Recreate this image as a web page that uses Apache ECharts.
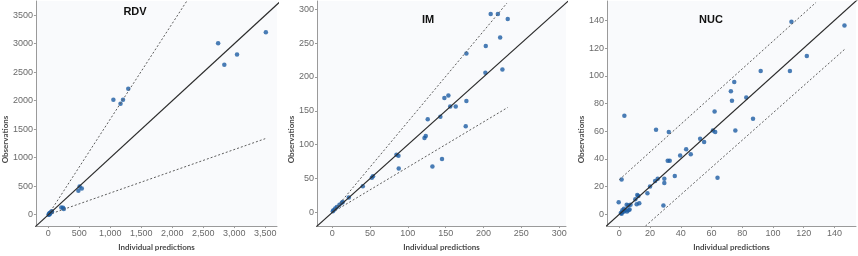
<!DOCTYPE html>
<html>
<head>
<meta charset="utf-8">
<script src="https://cdn.jsdelivr.net/npm/echarts@6/dist/echarts.min.js"></script>
<style>
  html, body { margin: 0; padding: 0; background: #fff; }
  #chart { width: 858px; height: 256px; }
</style>
</head>
<body>
<div id="chart"></div>
<script>
// observed vs individual predicted, [prediction, observation]
const rdvPoints = [
  [3510, 3200], [2740, 3010], [2840, 2630], [3045, 2810],
  [1050, 2015], [1290, 2210], [1205, 2015], [1165, 1945],
  [485, 420], [505, 495], [540, 460],
  [210, 125], [238, 120], [250, 100],
  [5, 5], [15, 20], [25, 30], [40, 45], [55, 60], [60, 50], [30, 15], [10, 0]
];
const imPoints = [
  [209.5, 292.8], [219, 292.8], [232, 285.6], [222, 258], [203, 245.7],
  [202.5, 206.3], [225, 211], [177.4, 234.6], [153.6, 172.6], [148.3, 168.8],
  [156, 156.3], [163.3, 156.3], [177.4, 164.4], [126.3, 137.5], [143, 141.3],
  [123.7, 113], [122, 110], [176.5, 127.4], [145.2, 78.8], [132.5, 67.8],
  [85, 85.1], [87.6, 83.7], [88, 64.9], [54, 53.4], [52.4, 51.4],
  [40.5, 38.9], [22, 22], [14, 15.4], [12.8, 14.4], [9.7, 11.5],
  [6.2, 8.2], [4, 5.8], [1.8, 3.4], [0.9, 1.9]
];
const nucPoints = [
  [112, 139], [146.5, 136.4], [122, 114.3], [111, 103.4], [92, 103.4],
  [74.8, 95.6], [72.6, 88.8], [73.3, 82], [82.6, 84.3], [87, 69],
  [23.9, 61], [32.2, 59.4], [52.6, 54.6], [55.2, 52.3], [60.9, 60.6],
  [62.4, 59.4], [75.5, 60.6], [43.5, 46.9], [39.6, 42.4], [46.5, 43.3],
  [31.5, 38.7], [32.8, 38.7], [36.1, 27.6], [63.9, 26.4], [29.3, 25.7],
  [29.3, 22.6], [25, 25.7], [23.3, 24], [1.5, 25.2], [20, 20],
  [18.3, 15.3], [11.7, 13.9], [12.4, 13.2], [10.4, 10.8], [11.3, 7.3],
  [13, 8], [6.7, 3.5], [4.8, 6.9], [5.9, 6.4], [7.3, 6.9],
  [28.7, 6.4], [-0.4, 8.7], [3.3, 71.2], [62, 74.2],
  [1, 1], [2, 1.5], [3, 2], [4, 3], [3, 4], [5, 2], [2, 3], [1.5, 0.5], [6, 3]
];

// identity and dashed reference lines
const rdvIdentity = [[-300, -300], [4000, 4000]];
const rdvUpper = [[0, 0], [2229, 3740]];
const rdvLower = [[0, 0], [3500, 1334]];
const imIdentity = [[-30, -30], [330, 330]];
const imUpper = [[0, 0], [231, 309]];
const imLower = [[0, 0], [232, 155]];
const nucIdentity = [[-10, -10], [160, 160]];
const nucUpper = [[0, 25], [128, 153]];
const nucLower = [[17, -8.5], [146.5, 119]];

const rdvTicks = [0, 500, 1000, 1500, 2000, 2500, 3000, 3500];
const imTicks = [0, 50, 100, 150, 200, 250, 300];
const nucTicks = [0, 20, 40, 60, 80, 100, 120, 140];

const panelTitles = ['RDV', 'IM', 'NUC'];

const labelStyle = { fontFamily: 'Liberation Sans', fontSize: 9, color: '#6a6a6a' };
const nameStyle = { fontFamily: 'Lato', fontSize: 8, fontWeight: 'bold', color: '#4a4a4a' };

function makeX(idx, min, max, ticks, commas) {
  return {
    type: 'value', gridIndex: idx, min: min, max: max,
    name: 'Individual predictions', nameLocation: 'middle', nameGap: 13,
    nameTextStyle: nameStyle,
    axisLine: { show: true, onZero: false, lineStyle: { color: '#9a9a9a', width: 1 } },
    axisTick: { show: true, length: 2, customValues: ticks, lineStyle: { color: '#9a9a9a' } },
    axisLabel: Object.assign({
      customValues: ticks, margin: 3,
      formatter: v => commas ? v.toLocaleString('en-US') : String(v)
    }, labelStyle),
    splitLine: { show: false }
  };
}
function makeY(idx, min, max, ticks) {
  return {
    type: 'value', gridIndex: idx, min: min, max: max,
    name: 'Observations', nameLocation: 'middle', nameGap: 21, nameRotate: 90,
    nameTextStyle: Object.assign({ padding: [0, 52, 0, 0] }, nameStyle),
    axisLine: { show: true, onZero: false, lineStyle: { color: '#9a9a9a', width: 1 } },
    axisTick: { show: true, length: 2, customValues: ticks, lineStyle: { color: '#9a9a9a' } },
    axisLabel: Object.assign({ customValues: ticks, margin: 3, formatter: v => String(v) }, labelStyle),
    splitLine: { show: false }
  };
}

function panelSeries(idx, points, identity, upper, lower) {
  return [
    { type: 'line', xAxisIndex: idx, yAxisIndex: idx, data: upper, symbol: 'none', silent: true,
      lineStyle: { color: '#5e5e5e', width: 1, type: [2, 2] } },
    { type: 'line', xAxisIndex: idx, yAxisIndex: idx, data: lower, symbol: 'none', silent: true,
      lineStyle: { color: '#5e5e5e', width: 1, type: [2, 2] } },
    { type: 'line', xAxisIndex: idx, yAxisIndex: idx, data: identity, symbol: 'none', silent: true,
      lineStyle: { color: '#2b2b2b', width: 1.2 } },
    { type: 'scatter', xAxisIndex: idx, yAxisIndex: idx, data: points, symbolSize: 4.5,
      itemStyle: { color: '#1d5ca3' } }
  ];
}

const chart = echarts.init(document.getElementById('chart'));
const gridBg = { show: true, backgroundColor: '#f9fafc', borderWidth: 0, top: 1, height: 230 };

chart.setOption({
  animation: false,
  grid: [
    Object.assign({ left: 27, width: 250 }, gridBg),
    Object.assign({ left: 317, width: 249 }, gridBg),
    Object.assign({ left: 607, width: 249 }, gridBg)
  ],
  xAxis: [
    makeX(0, -200, 3690, rdvTicks, true),
    makeX(1, -20, 309, imTicks, false),
    makeX(2, -8, 154, nucTicks, false)
  ],
  yAxis: [
    makeY(0, -200, 3750, rdvTicks),
    makeY(1, -20, 312, imTicks),
    makeY(2, -8.5, 154, nucTicks)
  ],
  graphic: [
    { type: 'text', x: 135, y: 12, style: { text: panelTitles[0], align: 'center', verticalAlign: 'middle',
      font: 'bold 11px "Liberation Sans"', fill: '#111' } },
    { type: 'text', x: 428, y: 20, style: { text: panelTitles[1], align: 'center', verticalAlign: 'middle',
      font: 'bold 11px "Liberation Sans"', fill: '#111' } },
    { type: 'text', x: 711, y: 20, style: { text: panelTitles[2], align: 'center', verticalAlign: 'middle',
      font: 'bold 11px "Liberation Sans"', fill: '#111' } }
  ],
  series: [].concat(
    panelSeries(0, rdvPoints, rdvIdentity, rdvUpper, rdvLower),
    panelSeries(1, imPoints, imIdentity, imUpper, imLower),
    panelSeries(2, nucPoints, nucIdentity, nucUpper, nucLower)
  )
});
</script>
</body>
</html>
